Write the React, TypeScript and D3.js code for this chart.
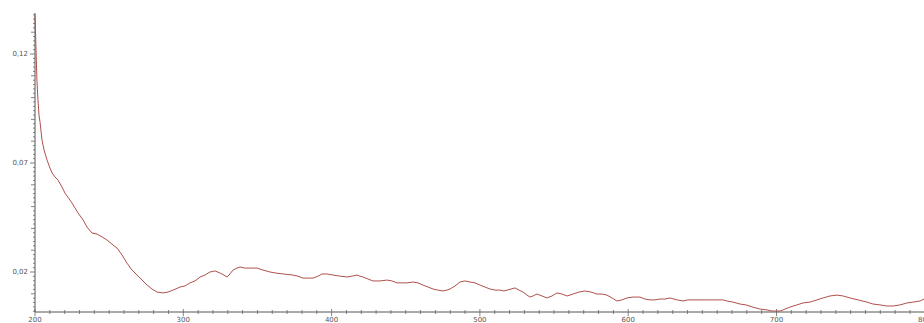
import React from "react";
import * as d3 from "d3";

const wavelengths = [200.0,200.3,200.7,201.0,201.3,202.0,202.7,203.4,204.7,206.1,208.1,210.1,211.5,213.5,215.5,218.2,220.2,224.9,229.0,232.4,235.1,238.4,241.8,245.2,248.5,251.9,255.3,258.7,262.0,265.4,268.8,272.2,275.6,278.9,282.3,286.3,289.7,293.1,297.8,301.1,304.5,307.9,311.3,314.6,318.0,321.4,324.8,327.4,329.5,331.5,333.5,336.2,338.2,341.6,345.0,349.7,353.7,358.5,362.5,367.2,374.0,377.3,380.7,384.1,387.5,390.8,393.5,396.9,400.9,405.7,410.4,413.8,417.1,419.1,421.2,424.5,427.9,432.6,437.4,440.7,444.1,447.5,450.8,454.9,458.3,461.6,465.0,468.4,471.7,475.1,477.8,479.8,483.2,486.6,489.9,493.3,496.7,500.1,503.4,506.8,510.2,513.5,516.2,518.3,521.0,523.7,526.4,529.1,531.8,533.8,535.8,538.5,541.9,545.2,548.6,552.0,555.4,558.7,560.7,562.8,566.8,570.9,574.9,578.9,582.3,585.7,589.1,592.4,595.8,599.2,603.2,607.9,611.3,614.7,618.1,621.4,624.8,628.2,632.9,636.9,640.3,643.7,648.4,653.1,656.5,660.5,663.9,666.6,670.6,675.4,679.4,684.1,688.9,693.6,697.0,700.3,702.4,704.4,709.1,713.8,717.9,722.6,727.3,731.4,736.1,740.8,744.9,749.6,755.0,761.0,765.1,769.8,774.5,778.6,783.3,788.0,792.0,796.8,799.5];

const absorbance = [0.1379,0.1310,0.1218,0.1150,0.1081,0.0989,0.0920,0.0888,0.0806,0.0760,0.0714,0.0677,0.0654,0.0636,0.0622,0.0590,0.0562,0.0517,0.0471,0.0439,0.0406,0.0379,0.0374,0.0361,0.0347,0.0328,0.0310,0.0278,0.0241,0.0209,0.0186,0.0163,0.0140,0.0122,0.0108,0.0104,0.0108,0.0117,0.0131,0.0136,0.0150,0.0159,0.0177,0.0186,0.0200,0.0205,0.0195,0.0186,0.0177,0.0191,0.0209,0.0218,0.0223,0.0218,0.0218,0.0218,0.0209,0.0200,0.0195,0.0191,0.0186,0.0181,0.0172,0.0172,0.0172,0.0181,0.0191,0.0191,0.0186,0.0181,0.0177,0.0181,0.0186,0.0181,0.0177,0.0168,0.0159,0.0159,0.0163,0.0159,0.0150,0.0150,0.0150,0.0154,0.0150,0.0140,0.0131,0.0122,0.0117,0.0113,0.0117,0.0122,0.0136,0.0154,0.0159,0.0154,0.0150,0.0140,0.0131,0.0122,0.0117,0.0117,0.0113,0.0117,0.0122,0.0127,0.0117,0.0108,0.0094,0.0085,0.0090,0.0099,0.0090,0.0081,0.0090,0.0104,0.0099,0.0090,0.0094,0.0099,0.0108,0.0113,0.0108,0.0099,0.0099,0.0094,0.0081,0.0067,0.0072,0.0081,0.0085,0.0085,0.0076,0.0072,0.0072,0.0076,0.0076,0.0081,0.0072,0.0067,0.0072,0.0072,0.0072,0.0072,0.0072,0.0072,0.0072,0.0067,0.0062,0.0053,0.0049,0.0039,0.0030,0.0026,0.0021,0.0021,0.0021,0.0026,0.0039,0.0049,0.0058,0.0062,0.0072,0.0081,0.0090,0.0094,0.0090,0.0081,0.0072,0.0062,0.0053,0.0049,0.0044,0.0044,0.0049,0.0058,0.0062,0.0067,0.0076];

const yTickValues = [0.02, 0.07, 0.12];
const xTickValues = [200, 300, 400, 500, 600, 700, 800];

const W = 924;
const H = 323;
const left = 35;
const axisY = 312;
const top = 13;

export default function App() {
  const x = d3.scaleLinear().domain([200, 800]).range([left, left + 600 * 1.483]);
  const y = d3.scaleLinear().domain([0.02, 0.12]).range([272, 54]);

  const data = wavelengths.map((w, i) => [w, absorbance[i]] as [number, number]);
  const line = d3.line<[number, number]>().x(d => x(d[0])).y(d => y(d[1])).curve(d3.curveLinear);

  const yMin = y.invert(axisY);
  const yMax = y.invert(top);
  const yMinor: number[] = [];
  for (let k = Math.ceil(yMin / 0.002); k * 0.002 <= yMax; k++) yMinor.push(k * 0.002);
  const xMinor: number[] = [];
  for (let v = 200; v <= 800; v += 10) xMinor.push(v);

  const fmt = (v: number) => v.toFixed(2).replace(".", ",");

  return (
    <svg width={W} height={H} style={{ position: "absolute", left: 0, top: 0, background: "#fff" }}>
      <line x1={left} x2={left} y1={top} y2={axisY} stroke="#555" strokeWidth={1} />
      {yMinor.map((v, i) => {
        const k = Math.round(v / 0.002);
        const isMajor = yTickValues.some(t => Math.abs(t - v) < 1e-6);
        const isMed = k % 5 === 0;
        const len = isMajor ? 5 : isMed ? 4 : 2;
        return <line key={"ym" + i} x1={left - len} x2={left} y1={y(v)} y2={y(v)} stroke="#666" strokeWidth={0.8} />;
      })}
      {yTickValues.map(v => (
        <text key={"yl" + v} x={left - 7} y={y(v)} dy="0.35em" textAnchor="end" fontFamily="DejaVu Sans" fontSize={7} fill="#555">{fmt(v)}</text>
      ))}
      <line x1={left} x2={W} y1={axisY} y2={axisY} stroke="#555" strokeWidth={1} />
      {xMinor.map(v => {
        const isMajor = v % 100 === 0;
        return <line key={"xm" + v} x1={x(v)} x2={x(v)} y1={axisY - (isMajor ? 3 : 2)} y2={axisY + (isMajor ? 4 : 2)} stroke="#666" strokeWidth={0.8} />;
      })}
      {xTickValues.map(v => (
        <text key={"xl" + v} x={x(v)} y={axisY + 10} textAnchor="middle" fontFamily="DejaVu Sans" fontSize={7} fill="#555">{v}</text>
      ))}
      <path d={line(data) ?? ""} fill="none" stroke="#b0504c" strokeWidth={1} />
    </svg>
  );
}
